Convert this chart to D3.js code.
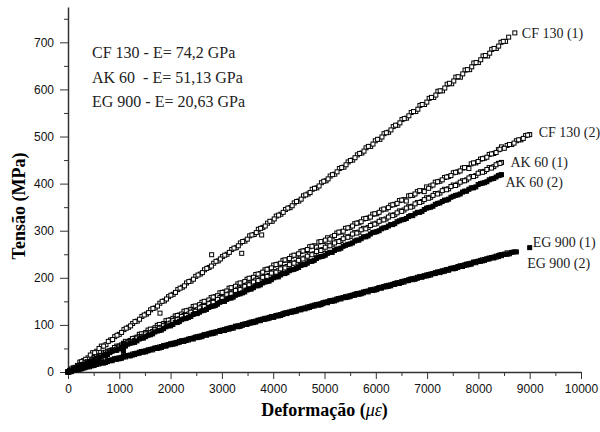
<!DOCTYPE html>
<html>
<head>
<meta charset="utf-8">
<script src="https://cdn.jsdelivr.net/npm/d3@7"></script>
<style>
  body { margin: 0; background: #fff; }
  svg { display: block; }
</style>
</head>
<body>
<div id="chart"></div>
<script>
// CF 130 (1)
const cf1Strain = [0, 60, 140, 230, 300, 390, 480, 560, 650, 740, 830, 910, 1000, 1090, 1180, 1260, 1350, 1440, 1530, 1610,
  1700, 1790, 1880, 1960, 2050, 2140, 2230, 2310, 2400, 2490, 2580, 2660, 2750, 2840, 2930, 3010, 3100, 3190, 3280, 3360,
  3450, 3540, 3630, 3710, 3800, 3890, 3980, 4060, 4150, 4240, 4330, 4410, 4500, 4590, 4680, 4760, 4850, 4940, 5030, 5110,
  5200, 5290, 5380, 5460, 5550, 5640, 5730, 5810, 5900, 5990, 6080, 6160, 6250, 6340, 6430, 6510, 6600, 6690, 6780, 6860,
  6950, 7040, 7130, 7210, 7300, 7390, 7480, 7560, 7650, 7740, 7830, 7910, 8000, 8090, 8180, 8260, 8350, 8440, 8530, 8710,
  1793, 2800, 3386, 3775];
const cf1Stress = [0, 6, 10, 21, 24, 30, 41, 44, 55, 58, 68, 75, 80, 90, 95, 103, 108, 118, 123, 132,
  136, 146, 151, 160, 165, 175, 180, 189, 193, 203, 208, 217, 222, 231, 236, 245, 250, 260, 264, 274,
  278, 289, 292, 303, 307, 316, 320, 331, 335, 345, 349, 359, 363, 374, 378, 388, 391, 402, 406, 416,
  420, 432, 435, 446, 450, 461, 465, 476, 479, 491, 494, 506, 509, 521, 524, 536, 539, 551, 553, 566,
  568, 581, 583, 596, 597, 611, 612, 626, 626, 641, 642, 656, 657, 671, 671, 685, 687, 700, 702, 720,
  125, 249, 252, 291];
const cf1StrainB = [30, 100, 185, 265, 345, 435, 520, 605, 695, 785, 870, 955, 1045, 1135, 1220, 1305, 1395, 1485, 1570, 1655,
  1745, 1835, 1920, 2005, 2095, 2185, 2270, 2355, 2445, 2535, 2620, 2705, 2795, 2885, 2970, 3055, 3145, 3235, 3320, 3405,
  3495, 3585, 3670, 3755, 3845, 3935, 4020, 4105, 4195, 4285, 4370, 4455, 4545, 4635, 4720, 4805, 4895, 4985, 5070, 5155,
  5245, 5335, 5420, 5505, 5595, 5685, 5770, 5855, 5945, 6035, 6120, 6205, 6295, 6385, 6470, 6555, 6645, 6735, 6820, 6905,
  6995, 7085, 7170, 7255, 7345, 7435, 7520, 7605, 7695, 7785, 7870, 7955, 8045, 8135, 8220, 8305, 8395, 8485, 8590];
const cf1StressB = [1, 9, 14, 22, 27, 36, 41, 50, 55, 65, 69, 78, 84, 93, 98, 107, 112, 121, 126, 135,
  140, 150, 155, 163, 169, 178, 183, 192, 197, 206, 211, 220, 225, 235, 240, 248, 254, 263, 268, 277,
  282, 291, 296, 305, 310, 320, 325, 333, 339, 348, 353, 362, 367, 376, 381, 390, 395, 405, 410, 419,
  425, 434, 440, 449, 455, 464, 469, 479, 484, 494, 499, 508, 514, 524, 529, 538, 544, 553, 558, 568,
  573, 583, 588, 597, 603, 613, 618, 627, 633, 642, 648, 657, 663, 672, 677, 687, 692, 702, 711];

// shared strain readings for the other five specimens (two interleaved passes)
const gridStrain = [0, 70, 160, 250, 330, 420, 510, 600, 690, 770, 860, 950, 1040, 1120, 1210, 1300, 1390, 1470, 1560, 1650,
  1740, 1820, 1910, 2000, 2090, 2170, 2260, 2350, 2440, 2520, 2610, 2700, 2790, 2870, 2960, 3050, 3140, 3220, 3310, 3400,
  3490, 3570, 3660, 3750, 3840, 3920, 4010, 4100, 4190, 4270, 4360, 4450, 4540, 4620, 4710, 4800, 4890, 4970, 5060, 5150,
  5240, 5320, 5410, 5500, 5590, 5670, 5760, 5850, 5940, 6020, 6110, 6200, 6290, 6370, 6460, 6550, 6640, 6720, 6810, 6900,
  6990, 7070, 7160, 7250, 7340, 7420, 7510, 7600, 7690, 7770, 7860, 7950, 8040, 8120, 8210, 8300, 8390, 8450, 8560, 8650,
  8740, 8830, 8920, 9000];
const gridStrainB = [35, 115, 205, 290, 375, 465, 555, 645, 730, 815, 905, 995, 1080, 1165, 1255, 1345, 1430, 1515, 1605, 1695,
  1780, 1865, 1955, 2045, 2130, 2215, 2305, 2395, 2480, 2565, 2655, 2745, 2830, 2915, 3005, 3095, 3180, 3265, 3355, 3445,
  3530, 3615, 3705, 3795, 3880, 3965, 4055, 4145, 4230, 4315, 4405, 4495, 4580, 4665, 4755, 4845, 4930, 5015, 5105, 5195,
  5280, 5365, 5455, 5545, 5630, 5715, 5805, 5895, 5980, 6065, 6155, 6245, 6330, 6415, 6505, 6595, 6680, 6765, 6855, 6945,
  7030, 7115, 7205, 7295, 7380, 7465, 7555, 7645, 7730, 7815, 7905, 7995, 8080, 8165, 8255, 8345, 8420, 8505, 8605, 8695,
  8785, 8875, 8960];

const cf2Stress = [0, 6, 8, 16, 19, 22, 31, 33, 41, 44, 47, 55, 57, 65, 67, 72, 80, 81, 89, 91,
  99, 100, 109, 111, 119, 121, 129, 131, 139, 140, 148, 150, 158, 160, 168, 170, 178, 179, 187, 189,
  197, 199, 207, 209, 217, 219, 227, 229, 237, 238, 246, 248, 256, 258, 266, 268, 276, 277, 285, 287,
  295, 297, 305, 307, 315, 317, 325, 327, 335, 336, 344, 346, 354, 356, 364, 366, 374, 375, 383, 385,
  393, 395, 403, 405, 413, 415, 423, 425, 433, 434, 442, 444, 452, 454, 462, 464, 472, 478, 481, 483,
  491, 493, 502, 504];
const cf2StressB = [3, 5, 12, 15, 22, 25, 32, 35, 42, 45, 52, 55, 61, 64, 71, 74, 81, 84, 91, 94,
  101, 103, 110, 114, 120, 123, 130, 133, 140, 143, 150, 153, 159, 162, 169, 172, 179, 182, 189, 192,
  199, 201, 208, 212, 218, 221, 228, 231, 238, 241, 248, 251, 257, 260, 267, 265, 277, 280, 282, 290,
  297, 299, 306, 310, 316, 319, 326, 329, 336, 339, 346, 349, 355, 358, 365, 363, 375, 378, 385, 383,
  390, 397, 404, 408, 414, 417, 424, 427, 434, 432, 444, 447, 453, 456, 463, 466, 473, 475, 483, 486,
  493, 496, 503];

const ak1Stress = [0, 3, 9, 13, 19, 21, 28, 31, 38, 40, 46, 49, 57, 58, 65, 67, 75, 76, 83, 86,
  94, 95, 101, 104, 112, 113, 120, 123, 130, 132, 139, 141, 148, 150, 158, 159, 166, 168, 176, 178,
  185, 187, 195, 196, 203, 205, 213, 215, 222, 224, 231, 233, 240, 242, 250, 251, 259, 260, 268, 270,
  277, 279, 287, 288, 296, 297, 305, 307, 314, 316, 323, 325, 333, 334, 342, 344, 351, 352, 360, 362,
  370, 371, 379, 380, 388, 389, 397, 399, 406, 408, 415, 417, 425, 426, 434, 436, 443, 445];
const ak1StressB = [1, 7, 10, 16, 19, 25, 28, 35, 37, 44, 47, 53, 56, 62, 65, 72, 74, 81, 83, 90,
  93, 99, 102, 109, 111, 118, 120, 127, 129, 136, 139, 145, 148, 154, 157, 164, 166, 173, 175, 182,
  185, 191, 194, 201, 203, 210, 212, 219, 221, 228, 231, 237, 240, 246, 249, 256, 258, 265, 268, 274,
  277, 283, 286, 293, 295, 302, 304, 311, 314, 320, 323, 329, 332, 338, 341, 348, 350, 357, 360, 366,
  369, 375, 378, 385, 387, 394, 396, 403, 406, 412, 415, 422, 424, 430, 433, 440, 443];

const ak2Stress = [1, 3, 7, 13, 15, 21, 26, 29, 35, 37, 44, 46, 53, 55, 61, 63, 70, 72, 78, 81,
  87, 89, 96, 98, 105, 107, 113, 116, 122, 124, 130, 133, 139, 141, 148, 150, 157, 159, 165, 168,
  174, 176, 183, 185, 191, 193, 200, 202, 209, 211, 217, 220, 226, 228, 235, 237, 244, 246, 252, 254,
  261, 263, 269, 272, 278, 280, 287, 289, 296, 298, 304, 307, 313, 315, 321, 324, 330, 332, 339, 341,
  348, 350, 356, 359, 365, 367, 373, 376, 382, 384, 391, 393, 400, 402, 408, 411, 417, 419];
const ak2StressB = [3, 6, 9, 15, 19, 22, 29, 32, 35, 41, 46, 49, 53, 59, 62, 66, 72, 75, 79, 85,
  88, 92, 98, 101, 105, 111, 114, 118, 124, 127, 131, 137, 140, 144, 150, 154, 157, 163, 166, 170,
  176, 179, 183, 189, 192, 196, 202, 206, 209, 215, 218, 222, 228, 231, 235, 241, 245, 248, 254, 258,
  261, 267, 271, 274, 280, 283, 287, 293, 297, 300, 306, 310, 313, 319, 323, 326, 332, 336, 339, 345,
  349, 352, 358, 362, 365, 371, 375, 378, 384, 388, 391, 398, 401, 404, 410, 414, 418];
const ak2Extra = [[1080, 44], [1080, 52], [1085, 60]];

const eg1Stress = [0, 3, 4, 8, 9, 13, 14, 19, 19, 24, 24, 29, 29, 34, 34, 39, 40, 44, 45, 49,
  50, 54, 55, 60, 60, 65, 65, 70, 70, 75, 75, 80, 81, 85, 86, 90, 91, 95, 96, 101,
  101, 106, 106, 111, 112, 116, 116, 121, 122, 126, 127, 131, 132, 136, 137, 142, 142, 147, 147, 152,
  153, 157, 158, 162, 163, 167, 168, 172, 173, 177, 178, 183, 183, 188, 188, 193, 194, 198, 199, 203,
  204, 208, 209, 213, 214, 218, 219, 224, 224, 229, 229, 234, 235, 239, 240, 244, 245, 249, 250, 254,
  255, null, null, 264];
const eg1StressB = [2, 5, 5, 9, 12, 13, 17, 21, 20, 25, 28, 28, 33, 35, 36, 40, 43, 43, 48, 51,
  51, 56, 58, 59, 63, 66, 67, 71, 74, 74, 79, 81, 82, 86, 89, 90, 94, 97, 97, 102,
  104, 105, 110, 112, 113, 117, 120, 120, 125, 127, 128, 133, 135, 136, 140, 143, 143, 148, 151, 151,
  156, 158, 159, 163, 166, 166, 171, 174, 174, 179, 181, 182, 186, 189, 190, 194, 197, 197, 202, 204,
  205, 209, 212, 213, 217, 220, 220, 225, 227, 228, 233, 235, 236, 240, 243, 244, 248, 250, 251, 255];

const eg2Stress = [0, 1, 6, 6, 11, 11, 16, 17, 21, 22, 26, 27, 31, 32, 36, 37, 42, 42, 47, 47,
  52, 52, 57, 58, 62, 63, 67, 68, 72, 73, 77, 78, 83, 83, 88, 88, 93, 93, 98, 99,
  103, 104, 108, 109, 114, 114, 118, 119, 124, 124, 129, 129, 134, 134, 139, 140, 144, 145, 149, 150,
  155, 155, 160, 160, 165, 165, 170, 170, 175, 175, 180, 181, 185, 186, 190, 191, 196, 196, 201, 201,
  206, 206, 211, 211, 216, 216, 221, 222, 226, 227, 231, 232, 237, 237, 242, 242, 247, 247, 253];
const eg2StressB = [0, 4, 7, 8, 11, 15, 16, 19, 23, 24, 27, 30, 32, 35, 38, 39, 43, 45, 47, 50,
  53, 55, 58, 61, 62, 66, 68, 71, 73, 76, 79, 81, 84, 86, 88, 92, 93, 97, 99, 101,
  104, 107, 109, 112, 114, 117, 119, 122, 125, 127, 130, 132, 135, 138, 140, 143, 145, 148, 151, 153,
  156, 158, 161, 163, 166, 168, 171, 174, 176, 179, 181, 184, 186, 189, 192, 194, 197, 199, 202, 204,
  207, 209, 212, 215, 217, 220, 222, 225, 227, 230, 233, 235, 238, 240, 243, 246, 248, 250];

const seriesNames = ["CF 130 (1)", "CF 130 (2)", "AK 60 (1)", "AK 60 (2)", "EG 900 (1)", "EG 900 (2)"];
const notes = ["CF 130 - E= 74,2 GPa", "AK 60  - E= 51,13 GPa", "EG 900 - E= 20,63 GPa"];
const xMajor = [0, 1000, 2000, 3000, 4000, 5000, 6000, 7000, 8000, 9000, 10000];
const xMinor = [500, 1500, 2500, 3500, 4500, 5500, 6500, 7500, 8500, 9500];
const yMajor = [0, 100, 200, 300, 400, 500, 600, 700];
const yMinor = [50, 150, 250, 350, 450, 550, 650, 750];

function pairs(xs, ys) {
  return ys.map((v, i) => [xs[i], v]).filter(d => d[1] != null);
}

// end = point the label hangs off; lab = label offset in px
const series = [
  { name: seriesNames[0], pts: pairs(cf1Strain, cf1Stress).concat(pairs(cf1StrainB, cf1StressB)), filled: false, end: 99, lab: [7, 0] },
  { name: seriesNames[1], pts: pairs(gridStrain, cf2Stress).concat(pairs(gridStrainB, cf2StressB)), filled: false, end: 103, lab: [9, -3] },
  { name: seriesNames[2], pts: pairs(gridStrain, ak1Stress).concat(pairs(gridStrainB, ak1StressB)), filled: false, end: 97, lab: [9, 0] },
  { name: seriesNames[3], pts: pairs(gridStrain, ak2Stress).concat(pairs(gridStrainB, ak2StressB), ak2Extra), filled: true, end: 97, lab: [4, 7] },
  { name: seriesNames[4], pts: pairs(gridStrain, eg1Stress).concat(pairs(gridStrainB, eg1StressB)), filled: true, end: 101, lab: [3, -6] },
  { name: seriesNames[5], pts: pairs(gridStrain, eg2Stress).concat(pairs(gridStrainB, eg2StressB)), filled: false, end: 98, lab: [20, 10] }
];

const width = 600, height = 432;
const svg = d3.select("#chart").append("svg")
  .attr("width", width)
  .attr("height", height);

const x = d3.scaleLinear().domain([0, 10000]).range([68, 581]);
const y = d3.scaleLinear().domain([0, 775]).range([372, 7]);

const tickFont = "'Liberation Sans', Arial, sans-serif";
const serif = "'Liberation Serif', 'Times New Roman', serif";

// x axis
svg.append("g")
  .attr("transform", `translate(0,${y(0)})`)
  .call(d3.axisBottom(x).tickValues(xMinor).tickSize(4).tickFormat("").tickSizeOuter(0))
  .call(g => g.select(".domain").remove());
const gx = svg.append("g")
  .attr("transform", `translate(0,${y(0)})`)
  .call(d3.axisBottom(x).tickValues(xMajor).tickSize(7).tickPadding(5).tickSizeOuter(0).tickFormat(d3.format("d")));
gx.attr("font-family", tickFont).attr("font-size", 12);

// y axis
svg.append("g")
  .attr("transform", `translate(${x(0)},0)`)
  .call(d3.axisLeft(y).tickValues(yMinor).tickSize(4).tickFormat("").tickSizeOuter(0))
  .call(g => g.select(".domain").remove());
const gy = svg.append("g")
  .attr("transform", `translate(${x(0)},0)`)
  .call(d3.axisLeft(y).tickValues(yMajor).tickSize(8).tickPadding(6).tickSizeOuter(0));
gy.attr("font-family", tickFont).attr("font-size", 12);

svg.selectAll(".domain").attr("stroke", "#333").attr("stroke-width", 1.5);
svg.selectAll(".tick line").attr("stroke", "#333");
svg.selectAll(".tick text").attr("fill", "#111");

// points: open squares first, filled ones on top
const sz = 4;
const order = series.filter(s => !s.filled).concat(series.filter(s => s.filled));
order.forEach(s => {
  svg.append("g")
    .selectAll("rect")
    .data(s.pts)
    .enter().append("rect")
    .attr("x", d => x(d[0]) - sz / 2)
    .attr("y", d => y(d[1]) - sz / 2)
    .attr("width", sz)
    .attr("height", sz)
    .attr("fill", s.filled ? "#000" : "#fff")
    .attr("stroke", "#000")
    .attr("stroke-width", 1);
});

// series labels next to the last reading
series.forEach(s => {
  const end = s.pts[s.end];
  svg.append("text")
    .attr("x", x(end[0]) + s.lab[0])
    .attr("y", y(end[1]) + s.lab[1])
    .attr("dy", "0.35em")
    .attr("font-family", serif)
    .attr("font-size", 14)
    .attr("fill", "#222")
    .text(s.name);
});

// modulus notes
svg.append("g")
  .selectAll("text")
  .data(notes)
  .enter().append("text")
  .attr("x", 92)
  .attr("y", (d, i) => 58 + i * 24.5)
  .attr("font-family", serif)
  .attr("font-size", 16)
  .attr("fill", "#222")
  .style("white-space", "pre")
  .text(d => d);

// axis titles
svg.append("text")
  .attr("transform", "translate(25,206) rotate(-90)")
  .attr("text-anchor", "middle")
  .attr("font-family", serif)
  .attr("font-size", 18)
  .attr("font-weight", "bold")
  .text("Tensão (MPa)");

const xt = svg.append("text")
  .attr("x", (x(0) + x(10000)) / 2)
  .attr("y", 416)
  .attr("text-anchor", "middle")
  .attr("font-family", serif)
  .attr("font-size", 18)
  .attr("font-weight", "bold");
xt.append("tspan").text("Deformação (");
xt.append("tspan").attr("font-style", "italic").attr("font-weight", "normal").text("με");
xt.append("tspan").text(")");
</script>
</body>
</html>
